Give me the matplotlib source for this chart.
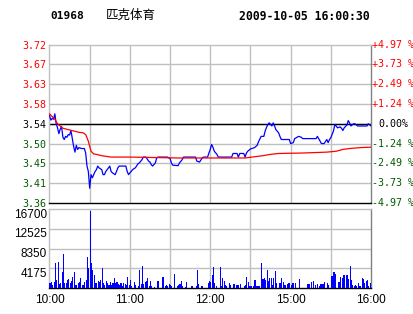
import matplotlib
matplotlib.use('Agg')
import matplotlib.pyplot as plt
from matplotlib.transforms import ScaledTranslation

# --- data --------------------------------------------------------------
code = '01968'
name = '匹克体育'
stamp = '2009-10-05 16:00:30'
prev_close = 3.54
pct_max = 4.97
price_labels = ['3.36', '3.41', '3.45', '3.50', '3.54', '3.58', '3.63', '3.67', '3.72']
pct_labels = ['-4.97 %', '-3.73 %', '-2.49 %', '-1.24 %', '0.00%',
              '+1.24 %', '+2.49 %', '+3.73 %', '+4.97 %']

# minutes since 10:00 (trading minutes, lunch removed), price
price_min = [0, 1, 2, 3, 4, 5, 6, 7, 8, 9, 10, 11, 12, 13, 14, 15, 16, 17, 18, 19,
             20, 21, 22, 24, 26, 27, 28, 29, 30, 31, 32, 33, 34, 35, 36, 37, 39, 40,
             41, 42, 44, 45, 46, 47, 49, 50, 51, 52, 57, 58, 59, 60, 61, 62, 64, 65,
             66, 67, 69, 70, 72, 74, 75, 76, 77, 79, 80, 81, 88, 90, 91, 92, 96, 97,
             99, 100, 109, 110, 112, 114, 115, 118, 119, 120, 121, 122, 123, 125, 126,
             136, 137, 140, 141, 142, 145, 146, 147, 148, 150, 153, 155, 156, 158, 160,
             161, 162, 163, 164, 166, 167, 168, 169, 171, 172, 173, 179, 180, 182, 183,
             186, 188, 189, 199, 200, 202, 203, 205, 207, 208, 209, 210, 212, 213, 214,
             215, 217, 218, 219, 220, 222, 223, 224, 225, 227, 228, 230, 237, 238, 240]
price = [3.558, 3.548, 3.552, 3.550, 3.562, 3.540, 3.531, 3.518, 3.528, 3.534, 3.510,
         3.505, 3.512, 3.510, 3.516, 3.515, 3.525, 3.508, 3.490, 3.477, 3.492, 3.483,
         3.487, 3.485, 3.485, 3.475, 3.446, 3.434, 3.397, 3.427, 3.420, 3.427, 3.434,
         3.438, 3.446, 3.442, 3.438, 3.427, 3.427, 3.434, 3.442, 3.446, 3.434, 3.431,
         3.427, 3.434, 3.442, 3.446, 3.446, 3.434, 3.427, 3.431, 3.434, 3.438, 3.442,
         3.446, 3.451, 3.453, 3.460, 3.466, 3.466, 3.457, 3.455, 3.449, 3.446, 3.453,
         3.464, 3.466, 3.466, 3.463, 3.453, 3.448, 3.447, 3.453, 3.460, 3.466, 3.466,
         3.457, 3.455, 3.464, 3.466, 3.466, 3.475, 3.483, 3.494, 3.488, 3.479, 3.472,
         3.466, 3.466, 3.474, 3.474, 3.466, 3.474, 3.474, 3.466, 3.475, 3.479, 3.484,
         3.487, 3.492, 3.500, 3.512, 3.512, 3.524, 3.532, 3.538, 3.542, 3.535, 3.542,
         3.535, 3.527, 3.520, 3.512, 3.505, 3.505, 3.496, 3.498, 3.507, 3.512, 3.510,
         3.507, 3.507, 3.512, 3.501, 3.496, 3.496, 3.505, 3.498, 3.505, 3.509, 3.524,
         3.538, 3.535, 3.531, 3.533, 3.530, 3.525, 3.531, 3.537, 3.547, 3.542, 3.535,
         3.540, 3.540, 3.535, 3.535, 3.540, 3.535]

avg_min = [0, 4, 6, 10, 14, 18, 22, 25, 27, 28, 29, 30, 31, 33, 35, 39, 46, 60, 96,
           146, 159, 165, 171, 189, 207, 214, 219, 224, 232, 240]
avg_price = [3.562, 3.550, 3.540, 3.530, 3.527, 3.524, 3.521, 3.520, 3.516, 3.509,
             3.501, 3.490, 3.479, 3.473, 3.472, 3.469, 3.466, 3.466, 3.464, 3.464,
             3.469, 3.472, 3.474, 3.475, 3.477, 3.479, 3.483, 3.485, 3.487, 3.488]

vol_min = [0, 1, 2, 3, 4, 5, 6, 7, 8, 9, 10, 11, 12, 13, 14, 15, 16, 17, 18, 19, 20,
           21, 22, 23, 24, 25, 26, 27, 28, 29, 30, 31, 32, 33, 34, 35, 36, 37, 38, 39,
           40, 41, 42, 43, 44, 45, 46, 47, 48, 49, 50, 51, 52, 53, 54, 55, 56, 57, 58,
           59, 60, 61, 63, 64, 66, 67, 68, 69, 70, 71, 72, 73, 74, 75, 76, 78, 80, 81,
           84, 85, 86, 87, 88, 89, 90, 91, 93, 95, 96, 97, 98, 99, 101, 102, 106, 109,
           110, 111, 113, 114, 118, 119, 120, 121, 122, 123, 124, 127, 128, 129, 130,
           131, 132, 134, 135, 137, 138, 139, 140, 141, 142, 145, 146, 147, 148, 149,
           150, 152, 153, 154, 155, 156, 158, 159, 160, 161, 162, 163, 164, 165, 166,
           167, 168, 169, 171, 172, 173, 174, 175, 176, 177, 178, 179, 180, 181, 182,
           183, 186, 192, 193, 194, 195, 197, 198, 200, 201, 202, 203, 204, 205, 207,
           208, 210, 211, 212, 213, 215, 216, 217, 218, 219, 220, 221, 222, 223, 224,
           225, 226, 227, 228, 229, 230, 231, 232, 233, 234, 235, 236, 237, 238, 239, 240]
vol = [1130, 1340, 630, 1340, 5220, 1690, 5500, 850, 1130, 3450, 7190, 1130, 1130, 1690,
       1830, 1130, 1550, 2260, 3450, 630, 630, 990, 1340, 2040, 630, 630, 1340, 1690,
       6630, 4160, 16300, 5360, 3810, 2750, 990, 990, 1550, 1340, 1690, 4160, 1130, 630,
       1480, 990, 630, 1340, 630, 1130, 2040, 990, 1340, 850, 630, 990, 420, 990, 780,
       630, 2260, 630, 1690, 420, 1200, 630, 420, 3810, 850, 4650, 850, 1340, 1550, 2040,
       420, 1550, 420, 280, 1480, 1480, 2260, 2400, 420, 630, 420, 850, 630, 420, 2960,
       420, 630, 850, 1550, 420, 280, 1200, 420, 420, 3810, 850, 420, 420, 1130, 1480,
       1340, 2750, 4370, 990, 420, 4370, 420, 2040, 1550, 630, 420, 990, 560, 850, 780,
       630, 560, 630, 780, 420, 630, 2260, 1340, 420, 420, 420, 1690, 420, 420, 420, 5220,
       1900, 2190, 1690, 3810, 1550, 2190, 2190, 630, 2040, 3530, 990, 990, 1130, 2040,
       1200, 630, 630, 850, 990, 1130, 630, 990, 990, 1130, 1830, 850, 850, 850, 1340,
       1480, 630, 850, 420, 850, 850, 850, 1270, 1130, 630, 2540, 2540, 3450, 2890, 1340,
       1340, 2400, 2040, 2750, 2750, 2750, 2750, 1900, 4650, 1690, 630, 420, 630, 420,
       990, 420, 420, 2040, 1830, 1130, 1550, 1690, 420, 1130, 2540]
vol_max = 16700
vol_labels = ['4175', '8350', '12525', '16700']

time_ticks = [0, 60, 120, 180, 240]
time_labels = ['10:00', '11:00', '12:00', '15:00', '16:00']

# --- layout -------------------------------------------------------------
W, H = 414, 314
fig = plt.figure(figsize=(W / 100, H / 100), dpi=100)
fig.patch.set_facecolor('white')

def box(x0, y0, x1, y1):
    return [x0 / W, 1 - y1 / H, (x1 - x0) / W, (y1 - y0) / H]

grid_c = '#c0c0c0'
red = '#ff0000'
green = '#005a00'
mono = 'DejaVu Sans Mono'

ax = fig.add_axes(box(49.5, 44.5, 371, 203))
axv = fig.add_axes(box(49.5, 209, 371, 288))

step = prev_close * pct_max / 100 / 4
levels = [prev_close + k * step for k in range(-4, 5)]

ax.plot(price_min, price, color='#0000ff', lw=0.9, zorder=3)
ax.plot(avg_min, avg_price, color=red, lw=0.9, zorder=3)
ax.axhline(prev_close, color='black', lw=1, zorder=2)
ax.set_xlim(0, 240)
ax.set_ylim(levels[0], levels[-1])
for y in levels[1:-1]:
    ax.axhline(y, color=grid_c, lw=1, zorder=1)
for x in range(30, 240, 30):
    ax.axvline(x, color=grid_c, lw=1, zorder=1)
ax.set_xticks([])
ax.set_yticks(levels, price_labels, family=mono, fontsize=7.2)
ax.tick_params(axis='y', length=0, pad=2)
for k, lab in zip(range(-4, 5), ax.get_yticklabels()):
    lab.set_color('black' if k == 0 else (red if k > 0 else green))

for k, y, txt in zip(range(-4, 5), levels, pct_labels):
    if k == 0:
        ax.text(1.024, y, txt, transform=ax.get_yaxis_transform(),
                ha='left', va='center', family=mono, fontsize=7.2, color='black')
    else:
        ax.text(1.002, y, txt, transform=ax.get_yaxis_transform(),
                ha='left', va='center', family=mono, fontsize=7.2,
                color=red if k > 0 else green)

axv.bar(vol_min, vol, width=0.8, align='edge', color='#0000ff', linewidth=0,
        zorder=3)
axv.set_xlim(0, 240)
axv.set_ylim(0, vol_max)
vticks = [vol_max * k / 4 for k in range(1, 5)]
for y in vticks[:-1]:
    axv.axhline(y, color=grid_c, lw=1, zorder=1)
for x in range(30, 240, 30):
    axv.axvline(x, color=grid_c, lw=1, zorder=1)
axv.set_yticks(vticks, vol_labels, family='Liberation Sans', fontsize=8.5)
axv.tick_params(axis='y', length=0, pad=2)
shift = ScaledTranslation(0, -4 / 100, fig.dpi_scale_trans)
for lab in axv.get_yticklabels():
    lab.set_transform(lab.get_transform() + shift)
axv.set_xticks(time_ticks, time_labels, family='Liberation Sans', fontsize=8.5)
axv.tick_params(axis='x', length=0, pad=4)

for a in (ax, axv):
    a.spines['top'].set_color(grid_c)
    a.spines['left'].set_color(grid_c)
    a.spines['right'].set_color('#808080')
    a.spines['bottom'].set_color('black')
    for s in a.spines.values():
        s.set_linewidth(1)

# header
fig.text(50 / W, 1 - 16 / H, code, family=mono, weight='bold', fontsize=8,
         va='center', ha='left')
fig.text(106 / W, 1 - 15 / H, name, family=['Noto Sans CJK SC', 'DejaVu Sans'],
         fontsize=9, va='center', ha='left')
fig.text(370 / W, 1 - 16 / H, stamp, family=mono, weight='bold', fontsize=8.3,
         va='center', ha='right')

fig.savefig('out.png', dpi=100)
